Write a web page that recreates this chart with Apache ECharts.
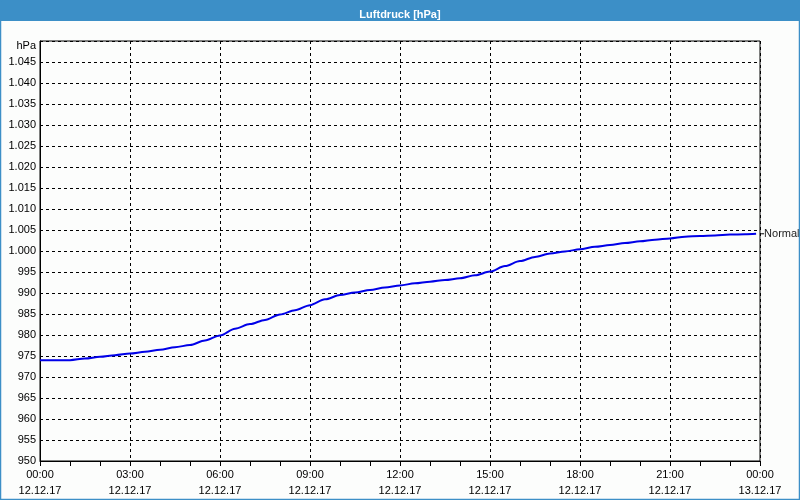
<!DOCTYPE html>
<html><head><meta charset="utf-8">
<script src="https://cdn.jsdelivr.net/npm/echarts@6/dist/echarts.min.js"></script>
<style>html,body{margin:0;padding:0;background:#fff}#c{width:800px;height:500px}</style>
</head><body><div id="c"></div>
<script>
const hours = [0,0.5,1,1.5,2,2.5,3,3.5,4,4.5,5,5.5,6,6.5,7,7.5,8,8.5,9,9.5,10,10.5,11,11.5,12,12.5,13,13.5,14,14.5,15,15.5,16,16.5,17,17.5,18,18.5,19,19.5,20,20.5,21,21.5,22,22.5,23,23.5,23.87];
const pressure = [974.0,974.0,974.0,974.4,974.8,975.2,975.6,976.0,976.5,977.1,977.6,978.7,979.9,981.5,982.6,983.6,984.9,985.9,987.1,988.5,989.5,990.1,990.7,991.3,991.8,992.3,992.7,993.1,993.5,994.2,995.1,996.4,997.6,998.6,999.4,999.9,1000.4,1001.0,1001.4,1001.9,1002.3,1002.7,1003.0,1003.4,1003.6,1003.7,1003.9,1004.0,1004.1];
const xTickLabels = ['00:00\n12.12.17','03:00\n12.12.17','06:00\n12.12.17','09:00\n12.12.17','12:00\n12.12.17','15:00\n12.12.17','18:00\n12.12.17','21:00\n12.12.17','00:00\n13.12.17'];
const seriesName = 'Normal';
const titleText = 'Luftdruck [hPa]';

const font = '"Liberation Sans", Arial, sans-serif';
const chart = echarts.init(document.getElementById('c'));
chart.setOption({
  backgroundColor: '#fcfdfc',
  animation: false,
  title: {text: titleText, left: 'center', top: 4,
    textStyle: {color: '#fff', fontSize: 11, fontWeight: 'bold', fontFamily: font}},
  graphic: [
    {type: 'rect', z: -1, shape: {x: 0, y: 0, width: 800, height: 21}, style: {fill: '#3c8fc7'}},
    {type: 'rect', z: 100, shape: {x: 0.5, y: 0.5, width: 799, height: 499}, style: {fill: 'none', stroke: '#3c8fc7', lineWidth: 1.5}}
  ],
  grid: {left: 40, right: 40, top: 41, bottom: 39, show: true, borderColor: '#000', borderWidth: 1, backgroundColor: 'transparent'},
  xAxis: {
    type: 'value', min: 0, max: 24, interval: 3,
    axisLine: {show: true, lineStyle: {color: '#000', width: 1}},
    axisTick: {show: true, length: 5, lineStyle: {color: '#000'}},
    minorTick: {show: true, splitNumber: 3, length: 5, lineStyle: {color: '#000'}},
    splitLine: {show: true, lineStyle: {color: '#000', type: [3, 3], width: 1}},
    axisLabel: {color: '#000', fontSize: 11, fontFamily: font, lineHeight: 16, margin: 6,
      formatter: v => xTickLabels[Math.round(v / 3)]}
  },
  yAxis: {
    type: 'value', min: 950, max: 1050, interval: 5,
    axisLine: {show: true, lineStyle: {color: '#000', width: 1}},
    axisTick: {show: false},
    splitLine: {show: true, lineStyle: {color: '#000', type: [3, 3], width: 1}},
    axisLabel: {color: '#000', fontSize: 11, fontFamily: font, margin: 4,
      formatter: v => v === 1050 ? '{h|hPa}' : (v >= 1000 ? '1.' + String(v - 1000).padStart(3, '0') : String(v)),
      rich: {h: {fontSize: 11, fontFamily: font, color: '#000', padding: [10, 0, 0, 0]}}}
  },
  series: [{
    name: seriesName, type: 'line', showSymbol: false, smooth: 0.3, smoothMonotone: 'x',
    data: hours.map((h, i) => [h, pressure[i]]),
    lineStyle: {color: '#0000e8', width: 2},
    itemStyle: {color: '#0000e8'},
    endLabel: {show: true, distance: 5, formatter: '{t|}' + seriesName,
      color: '#222', fontSize: 11, fontFamily: font,
      rich: {t: {width: 3, height: 1, backgroundColor: '#000', padding: 0}}}
  }]
});
</script></body></html>
